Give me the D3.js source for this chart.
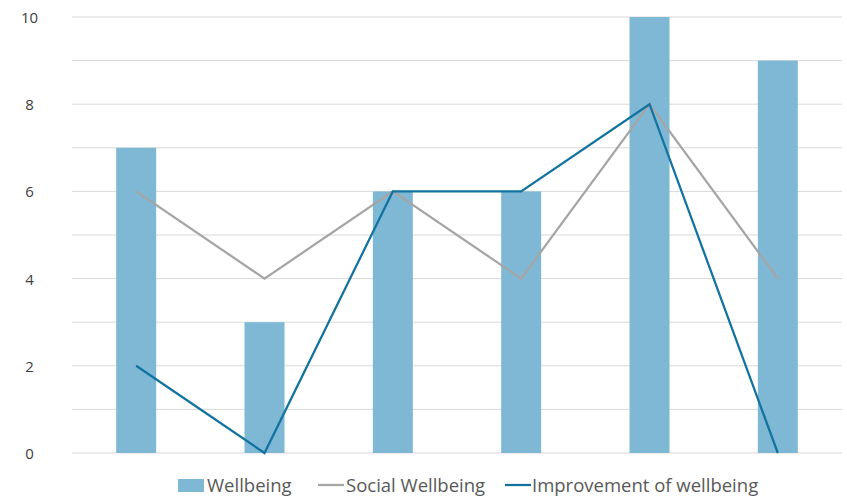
<!DOCTYPE html>
<html>
<head>
<meta charset="utf-8">
<script src="https://cdn.jsdelivr.net/npm/d3@7"></script>
<style>
  html, body { margin: 0; padding: 0; background: #fff; }
  svg { display: block; font-family: "Open Sans", "Noto Sans", sans-serif; }
</style>
</head>
<body>
<svg id="chart" width="847" height="498"></svg>
<script>
const categories = ["A", "B", "C", "D", "E", "F"];
const wellbeing = [7, 3, 6, 6, 10, 9];
const socialWellbeing = [6, 4, 6, 4, 8, 4];
const improvement = [2, 0, 6, 6, 8, 0];
const yTicks = [0, 2, 4, 6, 8, 10];

(function () {
const svg = d3.select("#chart");
const plotLeft = 72, plotRight = 842, plotTop = 17, plotBottom = 453;

const x = d3.scaleBand().domain(categories).range([plotLeft, plotRight]);
const y = d3.scaleLinear().domain([0, 10]).range([plotBottom, plotTop]);

// horizontal gridlines at every unit
svg.append("g").selectAll("line")
  .data(d3.range(0, 11))
  .join("line")
  .attr("x1", plotLeft).attr("x2", plotRight)
  .attr("y1", d => y(d)).attr("y2", d => y(d))
  .attr("stroke", "#d9d9d9").attr("stroke-width", 1);

// y axis labels
const yAxis = d3.axisLeft(y).tickValues(yTicks).tickSize(0).tickPadding(0);
const ga = svg.append("g").attr("transform", "translate(29.5,0)").call(yAxis);
ga.select(".domain").remove();
ga.selectAll("text")
  .attr("text-anchor", "middle")
  .attr("dy", "0.36em")
  .attr("fill", "#404040")
  .style("font-size", "15px")
  .style("font-family", "'Open Sans', sans-serif");

const barW = 40;
svg.append("g").selectAll("rect")
  .data(wellbeing)
  .join("rect")
  .attr("x", (d, i) => x(categories[i]) + x.bandwidth() / 2 - barW / 2)
  .attr("width", barW)
  .attr("y", d => y(d))
  .attr("height", d => y(0) - y(d))
  .attr("fill", "#7fb8d4");

const line = d3.line()
  .x((d, i) => x(categories[i]) + x.bandwidth() / 2)
  .y(d => y(d));

svg.append("path").datum(socialWellbeing)
  .attr("d", line).attr("fill", "none")
  .attr("stroke", "#a5a5a5").attr("stroke-width", 2.25);

svg.append("path").datum(improvement)
  .attr("d", line).attr("fill", "none")
  .attr("stroke", "#1273a0").attr("stroke-width", 2.25);

// legend
const leg = svg.append("g").style("font-size", "18.5px").attr("fill", "#595959");
leg.append("rect").attr("x", 178).attr("y", 479).attr("width", 26).attr("height", 13).attr("fill", "#7fb8d4");
leg.append("text").attr("x", 207).attr("y", 492).text("Wellbeing");
leg.append("line").attr("x1", 318).attr("x2", 344).attr("y1", 485).attr("y2", 485)
  .attr("stroke", "#a5a5a5").attr("stroke-width", 2.25);
leg.append("text").attr("x", 346).attr("y", 492).text("Social Wellbeing");
leg.append("line").attr("x1", 505).attr("x2", 531).attr("y1", 485).attr("y2", 485)
  .attr("stroke", "#1273a0").attr("stroke-width", 2.25);
leg.append("text").attr("x", 532).attr("y", 492).text("Improvement of wellbeing");
})();
</script>
</body>
</html>
